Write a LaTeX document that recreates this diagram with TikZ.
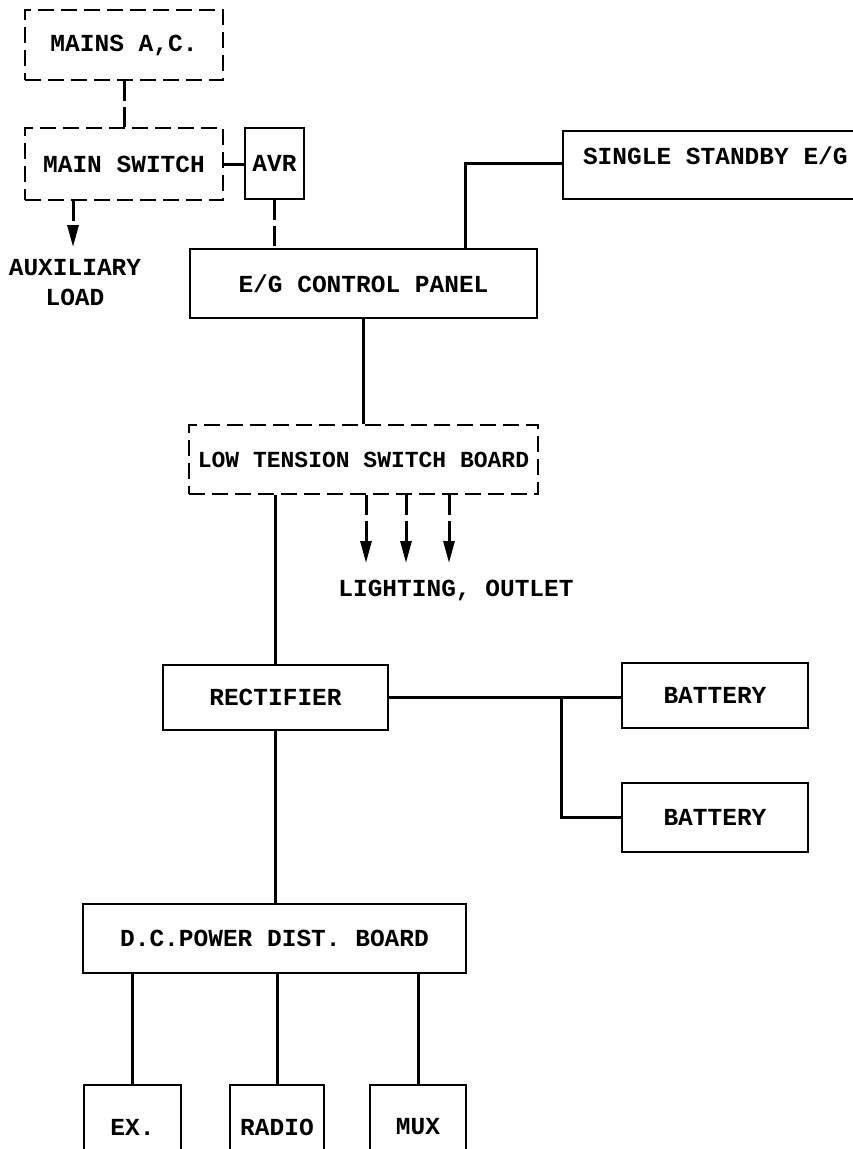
\documentclass[tikz,border=0pt]{standalone}
\usepackage{fontspec}
\setmonofont{Liberation Mono}
\usetikzlibrary{shapes}
\usetikzlibrary{arrows.meta}
\tikzset{
	blk/.style = {rectangle, draw=black, line width=2pt, inner sep=0pt, align=center,
		font=\ttfamily\bfseries\fontsize{24.5}{30}\selectfont},% solid box
	blk_d/.style = {blk, dash pattern=on 16pt off 7pt},% dashed box
	lbl/.style = {align=center, inner sep=0pt,
		font=\ttfamily\bfseries\fontsize{24.5}{30}\selectfont},% free text
	wire/.style = {line width=3pt},% solid feeder
	wire_d/.style = {wire, dash pattern=on 20pt off 6pt},% dashed feeder
	feed/.style = {wire_d, -{Triangle[length=22pt,width=11pt]}}% load arrow
}

\begin{document}
\begin{tikzpicture}[x=1pt,y=-1pt]
	\useasboundingbox (0,0) rectangle (853,1149);
	% a.c. side
	\node [blk_d, minimum width=198pt, minimum height=70pt] (mains) at (124,45) {MAINS A,C.};
	\node [blk_d, minimum width=198pt, minimum height=72pt] (mainsw) at (124,164) {MAIN SWITCH};
	\node [blk, minimum width=59pt, minimum height=71pt] (avr) at (274.5,163.5) {AVR};
	\node [lbl] (aux) at (75,283) {AUXILIARY\\LOAD};
	\node [blk, minimum width=347pt, minimum height=69pt] (egpanel) at (363.5,283.5) {E/G CONTROL PANEL};
	\node [blk, anchor=west, inner xsep=20pt, text depth=18pt, minimum height=68pt] (standby)
		at (562,165) {\makebox[300pt][l]{SINGLE STANDBY E/G}};
	\node [blk_d, minimum width=349pt, minimum height=69pt,
		font=\ttfamily\bfseries\fontsize{23}{28}\selectfont] (ltsb) at (363.5,459.5) {LOW TENSION SWITCH BOARD};
	\node [lbl] (lighting) at (456,590) {LIGHTING, OUTLET};
	% d.c. side
	\node [blk, minimum width=225pt, minimum height=65pt] (rect) at (275.5,697.5) {RECTIFIER};
	\node [blk, minimum width=186pt, minimum height=65pt] (bat1) at (715,695.5) {BATTERY};
	\node [blk, minimum width=186pt, minimum height=69pt] (bat2) at (715,817.5) {BATTERY};
	\node [blk, minimum width=383pt, minimum height=69pt] (dcb) at (274.5,938.5) {D.C.POWER DIST. BOARD};
	\node [blk, minimum width=97pt, minimum height=84pt] (ex) at (132.5,1127) {EX.};
	\node [blk, minimum width=94pt, minimum height=84pt] (radio) at (277,1127) {RADIO};
	\node [blk, minimum width=96pt, minimum height=84pt] (mux) at (418,1127) {MUX};
	% free ends
	\coordinate (auxend) at (73,247);
	\coordinate (ltend) at (0,563);
	\coordinate (batjn) at (561,0);
	% connectors
	\draw [wire_d] (mains) -- (mainsw);
	\draw [wire] (mainsw.east) -- (mainsw.east -| avr.west);
	\draw [feed] (mainsw.south -| auxend) -- (auxend);
	\draw [wire_d] (avr.south) -- (avr.south |- egpanel.north);
	\draw [wire] ([xshift=101.5pt]egpanel.north) |- ([yshift=2pt]standby.west);
	\draw [wire] (egpanel) -- (ltsb);
	\foreach \dx in {2.5,42.5,85.5}
		\draw [feed] ([xshift=\dx pt]ltsb.south) -- ([xshift=\dx pt]ltsb.south |- ltend);
	\draw [wire] (ltsb.south -| rect.north) -- (rect.north);
	\draw [wire] (rect.east) -- (rect.east -| bat1.west);
	\draw [wire] (batjn |- rect.east) |- (bat2.west);
	\draw [wire] (rect.south) -- (rect.south |- dcb.north);
	\foreach \n in {ex,radio,mux}
		\draw [wire] (\n.north |- dcb.south) -- (\n.north);
\end{tikzpicture}
\end{document}
